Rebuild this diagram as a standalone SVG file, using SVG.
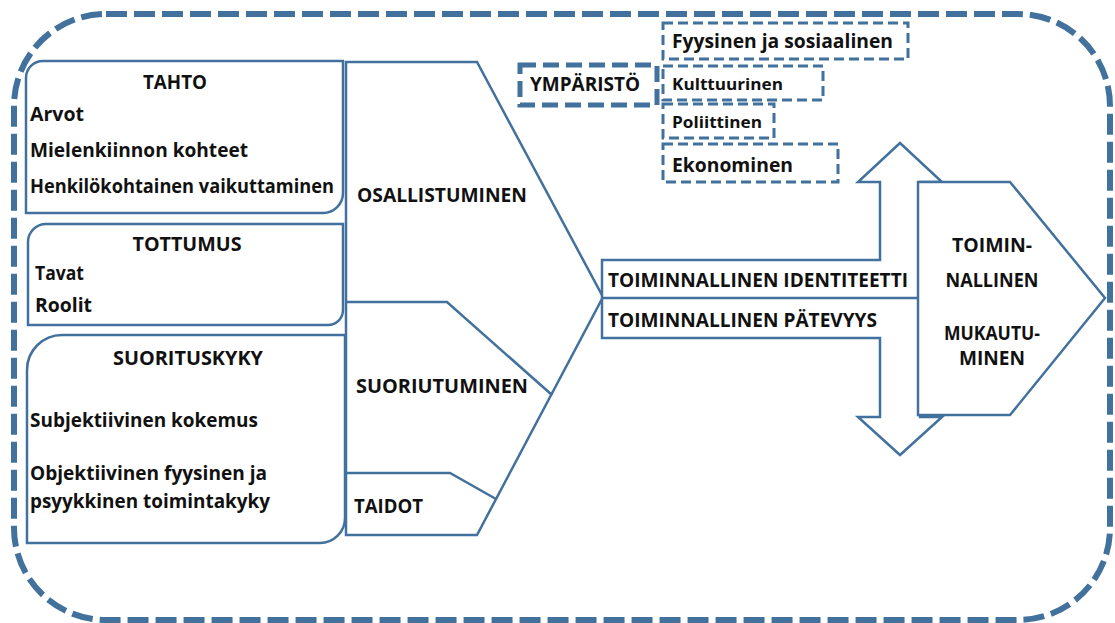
<svg xmlns="http://www.w3.org/2000/svg" width="1115" height="623" viewBox="0 0 1115 623">
<style>
.ln{fill:#fff;stroke:#41719C;stroke-width:2.5;stroke-linejoin:miter}
.open{fill:none;stroke:#41719C;stroke-width:2.5}
.env{fill:#fff;stroke:#41719C;stroke-width:3;stroke-dasharray:10 5}
text{font-family:"Open Sans","Liberation Sans",sans-serif;font-weight:bold;fill:#111;font-size:19px}
.c{text-anchor:middle}
</style>
<rect id="outer" x="14" y="14" width="1096" height="606" rx="92" ry="92" fill="none" stroke="#41719C" stroke-width="6" stroke-dasharray="21 7"/>
<g id="tahto">
<path class="ln" d="M26,78 A17,17 0 0 1 43,61 H343 V193 A20,20 0 0 1 323,213 H26 Z"/>
<text class="c" x="175" y="89" textLength="64" lengthAdjust="spacingAndGlyphs">TAHTO</text>
<text x="30" y="121" textLength="54" lengthAdjust="spacingAndGlyphs">Arvot</text>
<text x="30" y="157" textLength="218" lengthAdjust="spacingAndGlyphs">Mielenkiinnon kohteet</text>
<text x="30" y="193" textLength="304" lengthAdjust="spacingAndGlyphs">Henkilökohtainen vaikuttaminen</text>
</g>
<g id="tottumus">
<path class="ln" d="M28,242 A18,18 0 0 1 46,224 H343 V310 A15,15 0 0 1 328,325 H28 Z"/>
<text class="c" x="187" y="251" textLength="109" lengthAdjust="spacingAndGlyphs">TOTTUMUS</text>
<text x="35" y="280" textLength="49" lengthAdjust="spacingAndGlyphs">Tavat</text>
<text x="35" y="312" textLength="57" lengthAdjust="spacingAndGlyphs">Roolit</text>
</g>
<g id="suorituskyky">
<path class="ln" d="M27,370 A35,35 0 0 1 62,335 H345 V518 A25,25 0 0 1 320,543 H27 Z"/>
<text class="c" x="188" y="365" textLength="150" lengthAdjust="spacingAndGlyphs">SUORITUSKYKY</text>
<text x="30" y="427" textLength="228" lengthAdjust="spacingAndGlyphs">Subjektiivinen kokemus</text>
<text x="30" y="480" textLength="237" lengthAdjust="spacingAndGlyphs">Objektiivinen fyysinen ja</text>
<text x="30" y="508" textLength="240" lengthAdjust="spacingAndGlyphs">psyykkinen toimintakyky</text>
</g>
<g id="osallistuminen">
<path class="ln" stroke-width="3" d="M346,62 H477 L603,297 L477,535 H346 Z"/>
<text x="357" y="202" textLength="170" lengthAdjust="spacingAndGlyphs">OSALLISTUMINEN</text>
</g>
<g id="suoriutuminen">
<path class="open" stroke-width="3" d="M346,302 H447 L552,395"/>
<text x="356" y="393" textLength="172" lengthAdjust="spacingAndGlyphs">SUORIUTUMINEN</text>
</g>
<g id="taidot">
<path class="open" stroke-width="3" d="M346,473 H450 L496,499"/>
<text x="354" y="513" textLength="69" lengthAdjust="spacingAndGlyphs">TAIDOT</text>
</g>
<g id="identiteetti">
<path class="ln" d="M602,260 H880 V182 H858 L900,143 L942,182 H920 V417 H942 L900,455 L858,417 H880 V338 H602 Z"/>
<path class="open" d="M602,298 H920"/>
<text x="608" y="287" textLength="300" lengthAdjust="spacingAndGlyphs">TOIMINNALLINEN IDENTITEETTI</text>
<text x="608" y="327" textLength="269" lengthAdjust="spacingAndGlyphs">TOIMINNALLINEN PÄTEVYYS</text>
</g>
<g id="mukautuminen">
<path class="ln" d="M918,182 H1010 L1105,298 L1010,415 H918 Z"/>
<text class="c" x="992" y="252" textLength="80" lengthAdjust="spacingAndGlyphs">TOIMIN-</text>
<text class="c" x="992" y="287" textLength="93" lengthAdjust="spacingAndGlyphs">NALLINEN</text>
<text class="c" x="992" y="340" textLength="96" lengthAdjust="spacingAndGlyphs">MUKAUTU-</text>
<text class="c" x="992" y="365" textLength="66" lengthAdjust="spacingAndGlyphs">MINEN</text>
</g>
<g id="ymparisto">
<rect x="520" y="65" width="137" height="40" fill="#fff" stroke="#41719C" stroke-width="5" stroke-dasharray="16 7"/>
<text x="530" y="91" textLength="110" lengthAdjust="spacingAndGlyphs">YMPÄRISTÖ</text>
</g>
<g id="fyysinen">
<rect class="env" x="663" y="23" width="245" height="36"/>
<text x="672" y="48" textLength="221" lengthAdjust="spacingAndGlyphs">Fyysinen ja sosiaalinen</text>
</g>
<g id="kulttuurinen">
<rect class="env" x="663" y="66" width="160" height="34"/>
<text x="672" y="90" style="font-size:16px" textLength="111" lengthAdjust="spacingAndGlyphs">Kulttuurinen</text>
</g>
<g id="poliittinen">
<rect class="env" x="663" y="104" width="111" height="34"/>
<text x="672" y="128" style="font-size:16px" textLength="90" lengthAdjust="spacingAndGlyphs">Poliittinen</text>
</g>
<g id="ekonominen">
<rect class="env" x="663" y="144" width="175" height="38"/>
<text x="672" y="172" textLength="121" lengthAdjust="spacingAndGlyphs">Ekonominen</text>
</g>
<g id="connectors"></g>
</svg>
